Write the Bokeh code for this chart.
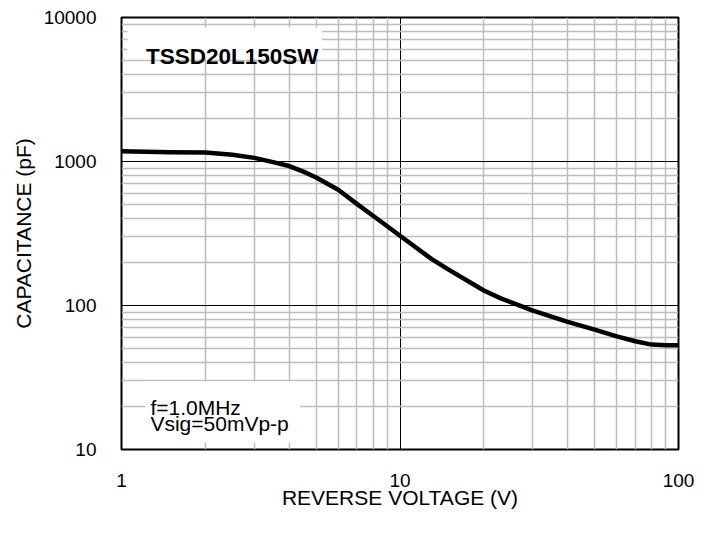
from bokeh.plotting import figure
from bokeh.models import Range1d, FixedTicker, NumeralTickFormatter, BoxAnnotation, Label
from bokeh.embed import file_html
from bokeh.resources import INLINE

# ---- data ----
voltage = [1, 1.5, 2, 2.5, 3, 3.5, 4, 4.5, 5, 6, 7, 8, 9, 10, 13, 15, 20, 23, 25.5, 30, 40, 50, 60, 70, 80, 90, 100]
capacitance = [1180, 1160, 1155, 1115, 1060, 990, 930, 850, 775, 636, 508, 420, 355, 305, 210, 177, 127, 112, 104, 92, 77, 68, 61, 56.5, 53.5, 53, 53]

x_major = [1, 10, 100]
x_minor = [2, 3, 4, 5, 6, 7, 8, 9, 20, 30, 40, 50, 60, 70, 80, 90]
y_major = [10, 100, 1000, 10000]
y_minor = [20, 30, 40, 50, 60, 70, 80, 90,
           200, 300, 400, 500, 600, 700, 800, 900,
           2000, 3000, 4000, 5000, 6000, 7000, 8000, 9000]

title_text = "TSSD20L150SW"
note_line1 = "f=1.0MHz"
note_line2 = "Vsig=50mVp-p"
x_label = "REVERSE VOLTAGE (V)"
y_label = "CAPACITANCE (pF)"

FONT = "Liberation Sans"

p = figure(width=706, height=529, x_axis_type="log", y_axis_type="log",
           x_range=Range1d(1, 100), y_range=Range1d(10, 10000),
           output_backend="svg", toolbar_location=None,
           min_border_left=121, min_border_right=28, min_border_top=17, min_border_bottom=80)
p.background_fill_color = "white"
p.border_fill_color = "white"
p.outline_line_color = "black"
p.outline_line_width = 2

p.xaxis.ticker = FixedTicker(ticks=x_major, minor_ticks=x_minor)
p.yaxis.ticker = FixedTicker(ticks=y_major, minor_ticks=y_minor)
p.xaxis.formatter = NumeralTickFormatter(format="0")
p.yaxis.formatter = NumeralTickFormatter(format="0")

for ax in (p.xaxis, p.yaxis):
    ax.axis_line_color = None
    ax.major_tick_in = 0
    ax.major_tick_out = 0
    ax.minor_tick_in = 0
    ax.minor_tick_out = 0
    ax.major_label_text_font = FONT
    ax.major_label_text_font_size = "19px"
    ax.major_label_text_color = "black"
    ax.axis_label_text_font = FONT
    ax.axis_label_text_font_size = "21px"
    ax.axis_label_text_font_style = "normal"
    ax.axis_label_text_color = "black"

p.xaxis.axis_label = x_label
p.yaxis.axis_label = y_label
p.xaxis.major_label_standoff = 24
p.xaxis.axis_label_standoff = -4
p.yaxis.major_label_standoff = 25
p.yaxis.axis_label_standoff = 6

for g in (p.xgrid, p.ygrid):
    g.grid_line_color = "black"
    g.grid_line_width = 1
    g.minor_grid_line_color = "#bdbdbd"
    g.minor_grid_line_width = 1.5

p.line(voltage, capacitance, line_color="black", line_width=4.5, line_join="round")

# white boxes behind the texts
p.add_layout(BoxAnnotation(left=1.05, right=5.25, top=8524, bottom=5190,
                           fill_color="white", fill_alpha=1, line_color=None))
p.add_layout(BoxAnnotation(left=1.219, right=4.38, top=29.7, bottom=11.2,
                           fill_color="white", fill_alpha=1, line_color=None))

p.add_layout(Label(x=1.225, y=5355, text=title_text, text_font=FONT, text_font_size="22.5px",
                   text_font_style="bold", text_align="left", text_baseline="alphabetic",
                   text_color="black"))
p.add_layout(Label(x=1.27, y=19.7, text=note_line1, text_font=FONT, text_font_size="21px",
                   text_align="left", text_baseline="alphabetic", text_color="black"))
p.add_layout(Label(x=1.27, y=15.16, text=note_line2, text_font=FONT, text_font_size="21px",
                   text_align="left", text_baseline="alphabetic", text_color="black"))

open("out.html", "w").write(file_html(p, INLINE))
